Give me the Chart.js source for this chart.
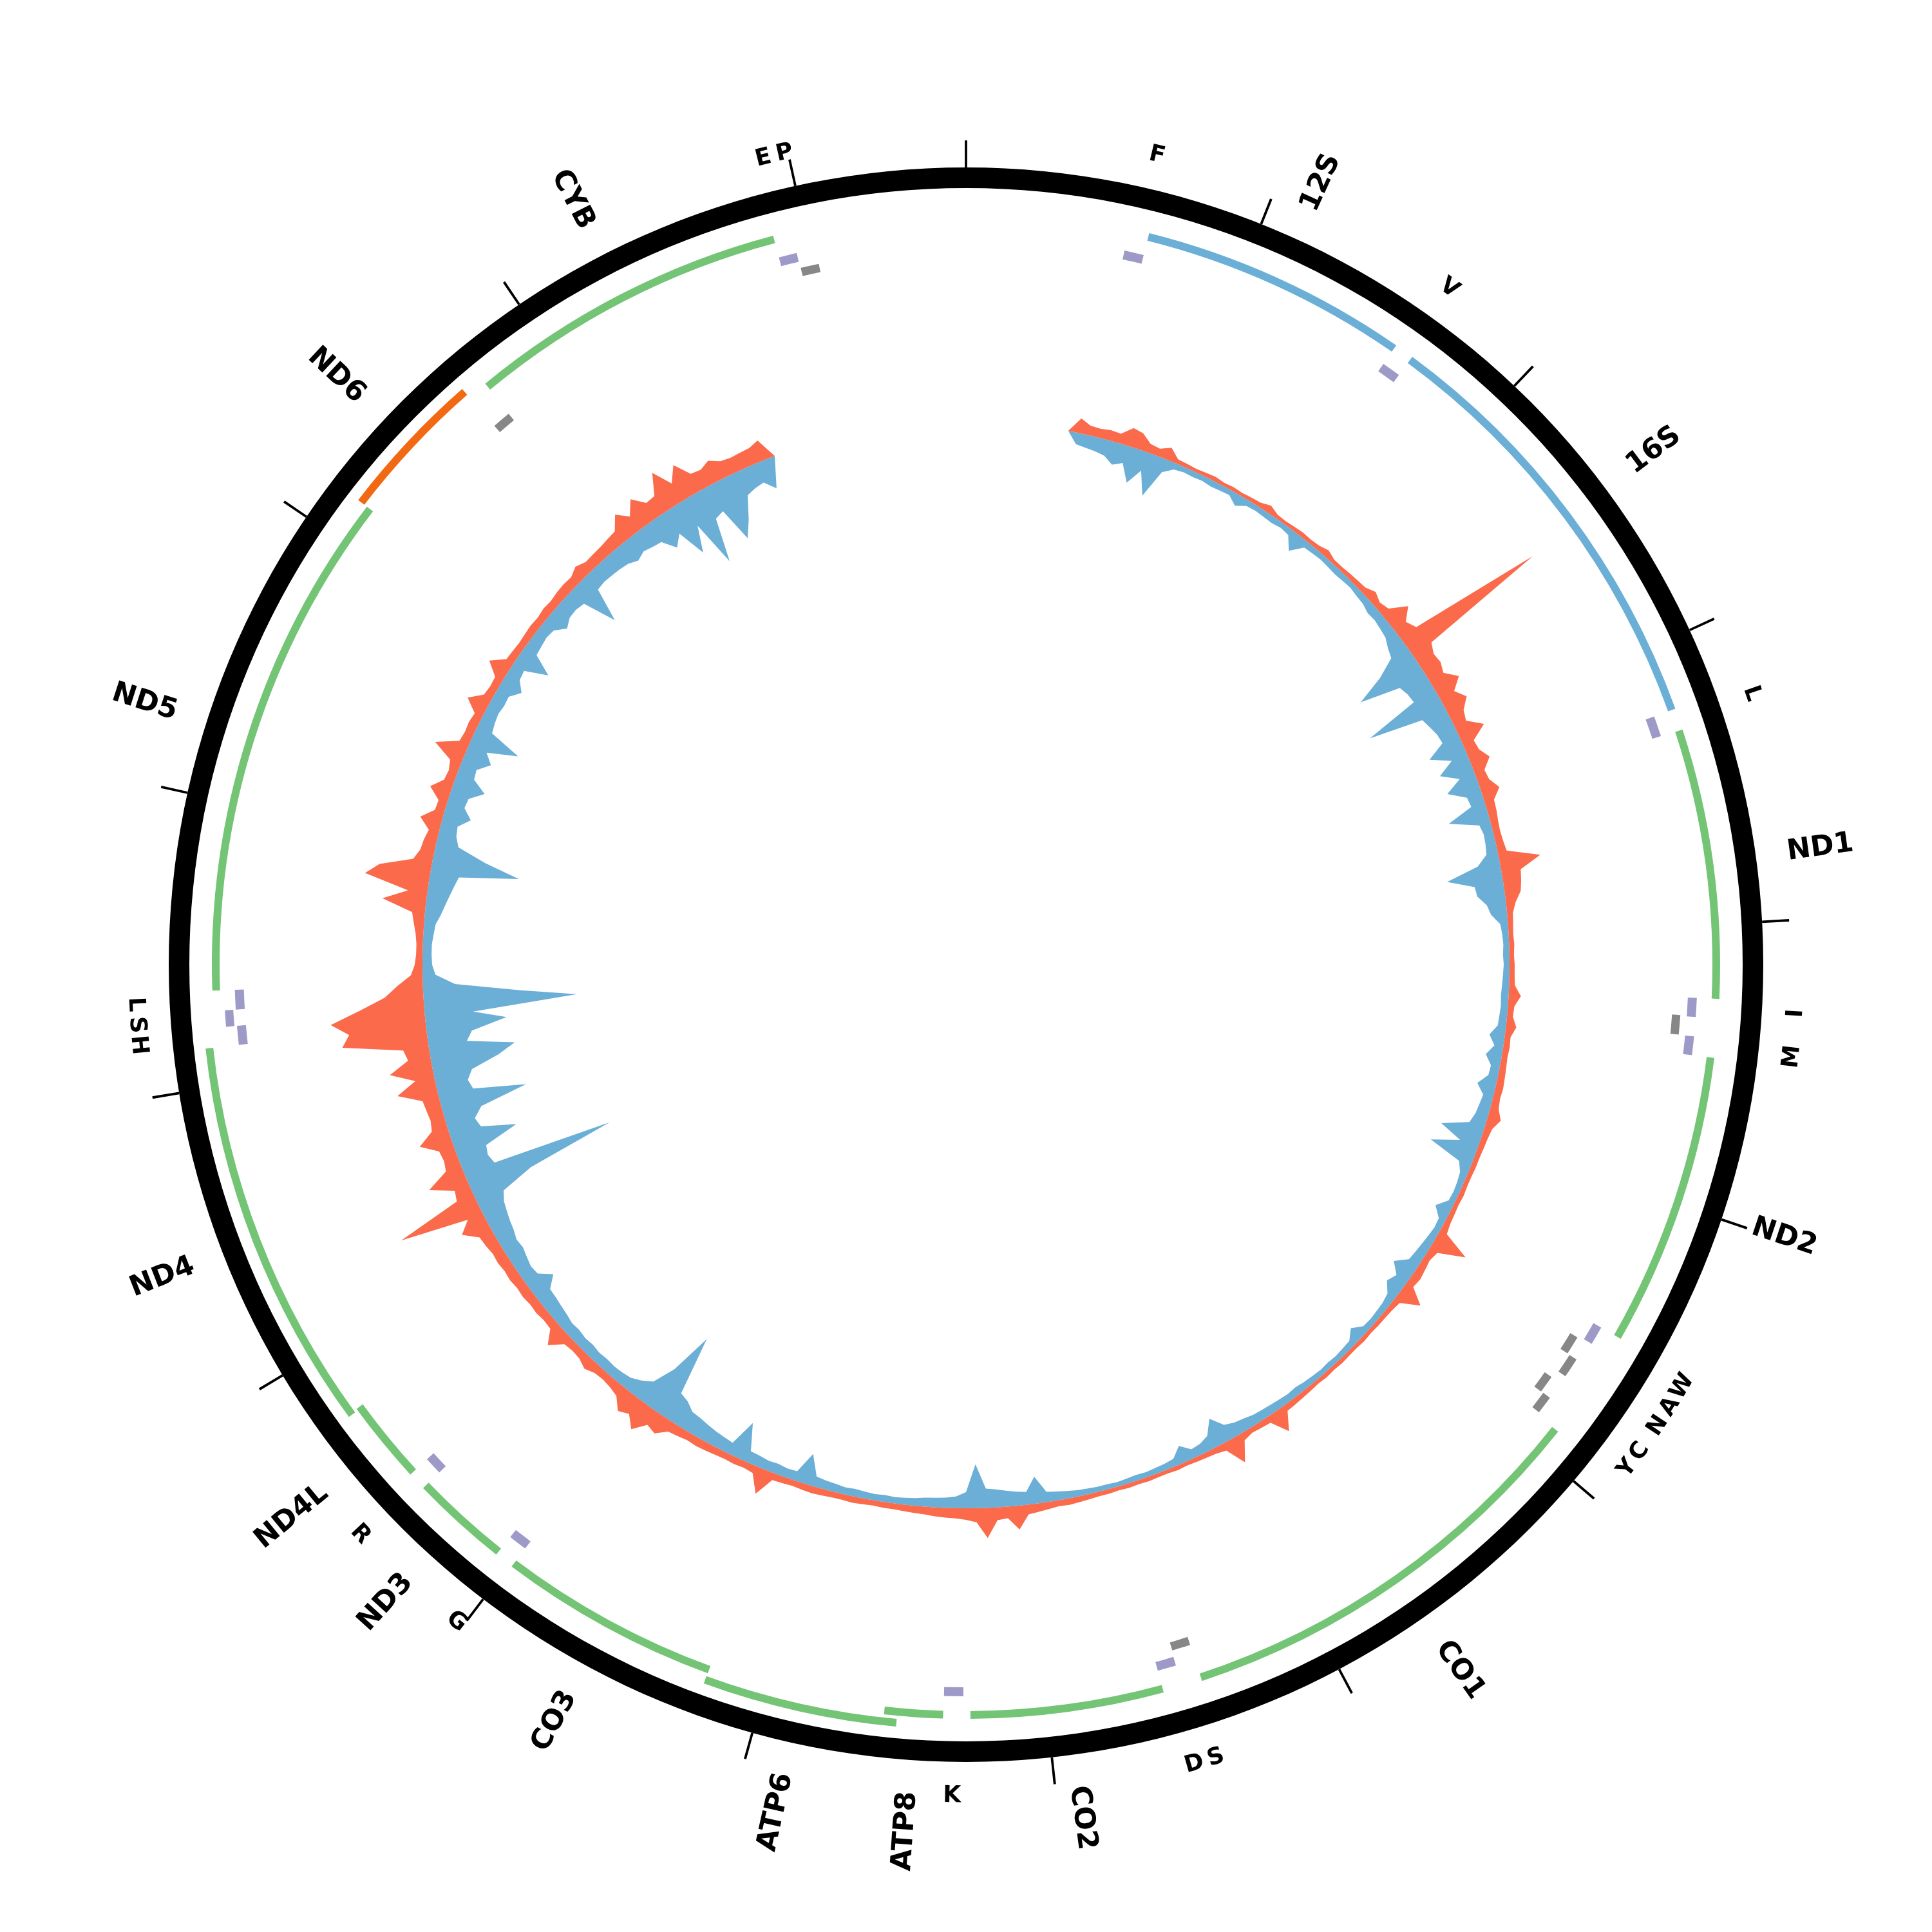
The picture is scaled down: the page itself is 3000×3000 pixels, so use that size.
<!DOCTYPE html>
<html>
<head>
<meta charset="utf-8">
<script src="https://cdn.jsdelivr.net/npm/chart.js@4.4.1/dist/chart.umd.min.js"></script>
<style>
html,body{margin:0;padding:0;background:#ffffff;}
#wrap{position:relative;width:3000px;height:3000px;background:#ffffff;}
#wrap canvas{position:absolute;left:0;top:0;}
</style>
</head>
<body>
<div id="wrap">
  <canvas id="coverage" width="3000" height="3000"></canvas>
  <canvas id="lstrand" width="3000" height="3000"></canvas>
  <canvas id="genome" width="3000" height="3000"></canvas>
</div>
<script>
// ---------------- DATA ----------------
const GENOME_LENGTH = 16569;
const tickPositions = [0,1000,2000,3000,4000,5000,6000,7000,8000,9000,10000,11000,12000,13000,14000,15000,16000];

// rRNA and protein-coding genes
const geneNames  = ['12S','16S','ND1','ND2','CO1','CO2','ATP8','ATP6','CO3','ND3','ND4L','ND4','ND5','ND6','CYB'];
const geneStarts = [648,1671,3307,4470,5904,7586,8366,8527,9207,10059,10470,10760,12337,14149,14747];
const geneEnds   = [1601,3229,4262,5511,7445,8269,8572,9207,9990,10404,10766,12137,14148,14673,15887];
const geneKinds  = ['rRNA','rRNA','CDS','CDS','CDS','CDS','CDS','CDS','CDS','CDS','CDS','CDS','CDS','CDS-L','CDS'];
const geneTracks = [0,0,0,0,0,0,0,1,0,0,0,1,0,1,0];

// tRNAs (labels as printed on the chart)
const trnaNames   = ['F','V','L1','I','Q','M','W','A','N','C','Y','S1','D','K','G','R','H','S2','L2','E','T','P'];
const trnaLabels  = ['F','V','L','I','','M','W','A','N','C','Y','S','D','K','G','R','H','S','L','','E','P'];
const trnaStarts  = [577,1602,3230,4263,4329,4402,5512,5587,5657,5761,5826,7446,7518,8295,9991,10405,12138,12207,12266,14674,15888,15956];
const trnaEnds    = [647,1670,3304,4331,4400,4469,5579,5655,5729,5826,5891,7514,7585,8364,10058,10469,12206,12265,12336,14742,15953,16023];
const trnaStrands = ['H','H','H','H','L','H','H','L','L','L','L','L','H','H','H','H','H','H','H','L','H','L'];
const trnaTracks  = [0,0,0,0,0,0,0,0,1,0,1,0,0,0,0,0,0,1,0,0,0,0];

// coverage, 332 bins around the genome (forward strand outward, reverse strand inward)
const coverageBins = 332;
const coverageForward = [
  0,0,0,0,0,0,0,0,0,0,
  0,23,15,14,16,15,29,26,14,12,
  20,7,6,5,6,7,5,6,5,6,
  7,12,6,5,6,7,6,7,11,6,
  6,7,8,9,16,10,14,40,22,30,
  241,35,28,30,25,43,25,38,24,20,
  43,18,20,31,16,18,29,15,14,12,
  11,12,14,64,30,28,25,15,9,8,
  7,8,7,8,8,9,19,10,9,16,
  9,10,9,10,11,12,11,13,21,12,
  10,9,8,8,7,7,8,7,8,9,
  12,55,14,10,12,14,12,38,10,8,
  7,7,6,7,6,6,7,6,7,6,
  7,8,9,10,37,10,9,8,12,42,
  12,9,8,7,6,7,6,6,7,6,
  7,6,7,7,8,9,10,9,11,13,
  15,37,18,20,47,22,18,16,15,14,
  12,11,10,9,9,8,9,10,9,9,
  10,11,10,9,10,11,40,12,10,11,
  10,11,12,13,12,14,16,30,25,45,
  28,35,18,14,12,13,19,13,12,14,
  34,14,13,15,14,16,15,17,16,18,
  17,20,22,44,25,132,28,24,60,25,
  22,24,50,25,22,24,26,62,30,67,
  35,40,133,120,147,100,60,40,18,12,
  10,10,12,16,20,68,30,100,80,30,
  22,20,16,34,15,14,33,16,14,18,
  50,16,14,15,13,34,14,12,13,34,
  13,12,11,12,13,12,14,13,15,16,
  15,22,16,17,18,20,22,42,26,47,
  28,30,62,32,55,30,28,35,26,24,
  25,26,32,0,0,0,0,0,0,0,
  0,0,0,0,0,0,0,0,0,0,
  0,0
];
const coverageReverse = [
  0,0,0,0,0,0,0,0,0,0,
  0,18,20,22,25,35,28,55,30,66,
  21,10,8,9,8,10,9,8,18,9,
  8,9,10,8,10,29,10,9,8,9,
  10,9,8,10,11,15,14,16,18,25,
  30,62,108,45,40,38,125,40,35,30,
  28,57,26,52,25,51,24,22,63,18,
  15,16,18,35,86,45,43,30,25,12,
  10,9,10,9,10,11,12,11,12,13,
  24,14,25,14,15,29,16,18,20,25,
  66,30,73,20,12,10,9,10,25,11,
  10,12,14,16,18,36,20,27,14,11,
  10,9,10,22,10,9,8,9,8,9,
  10,12,11,12,13,14,15,18,20,25,
  44,22,16,14,27,12,10,9,8,9,
  8,7,8,8,9,10,12,14,16,42,
  20,22,25,28,30,68,25,18,16,15,
  14,12,11,10,11,10,11,12,11,13,
  14,16,48,15,14,16,15,17,18,59,
  18,20,22,25,28,30,40,45,137,70,
  35,25,18,16,15,16,15,17,16,18,
  17,20,22,24,25,43,24,22,25,28,
  26,30,32,35,38,45,99,239,50,45,
  48,103,50,45,60,136,55,50,60,105,
  133,60,70,126,75,238,149,50,20,15,
  14,14,16,18,25,30,35,40,45,137,
  81,35,28,26,43,28,30,51,28,26,
  44,30,77,25,22,20,22,21,35,22,
  20,55,22,20,18,20,34,26,25,28,
  80,28,26,27,28,30,36,30,33,35,
  56,40,85,45,118,50,45,100,75,40,
  35,32,48,0,0,0,0,0,0,0,
  0,0,0,0,0,0,0,0,0,0,
  0,0
];

// ---------------- STYLE ----------------
const COLORS = {
  rRNA: '#6baed6', CDS: '#74c476', 'CDS-L': '#f16913',
  tH: '#9e9ac8', tL: '#878787',
  fwd: '#fb6a4a', rev: '#6baed6', ring: '#000000'
};
const NONE = 'rgba(0,0,0,0)';
const TICK_BP = 8;
const R_BIG = 1287, R_SMALL = 1291;
const FONT = '"DejaVu Sans", "Liberation Sans", sans-serif';
const BIG_FONT = 'bold 44px ' + FONT;
const SMALL_FONT = 'bold 36px ' + FONT;

// ---------------- HELPERS ----------------
function buildRing(indices, starts, ends, colorOf, labelOf) {
  const order = indices.slice().sort((a, b) => starts[a] - starts[b]);
  const data = [], bg = [], lab = [];
  let cursor = 1;
  for (const k of order) {
    if (starts[k] > cursor) { data.push(starts[k] - cursor); bg.push(NONE); lab.push(''); }
    data.push(ends[k] - starts[k] + 1); bg.push(colorOf(k)); lab.push(labelOf(k));
    cursor = ends[k] + 1;
  }
  if (cursor <= GENOME_LENGTH) { data.push(GENOME_LENGTH - cursor + 1); bg.push(NONE); lab.push(''); }
  return { data, bg, lab };
}

function tickRing() {
  const data = [], bg = [];
  let cur = 0;
  tickPositions.forEach(p => {
    const a = Math.max(0, p - TICK_BP / 2), b = p + TICK_BP / 2;
    if (a > cur) { data.push(a - cur); bg.push(NONE); }
    data.push(b - a); bg.push(COLORS.ring);
    cur = b;
  });
  data.push(GENOME_LENGTH - TICK_BP / 2 - cur); bg.push(NONE);
  data.push(TICK_BP / 2); bg.push(COLORS.ring);
  return { data, bg };
}

const idxAll = (arr) => arr.map((_, i) => i);

function ringDataset(ring, weight, style) {
  return {
    data: ring.data, backgroundColor: ring.bg, weight: weight,
    borderWidth: 0, hoverBorderWidth: 0, hoverOffset: 0, offset: 0,
    featureLabels: ring.lab || null, labelStyle: style || null
  };
}
function spacer(weight) {
  return { data: [GENOME_LENGTH], backgroundColor: [NONE], weight: weight,
           borderWidth: 0, hoverBorderWidth: 0, hoverOffset: 0, offset: 0 };
}

const labelPlugin = {
  id: 'featureLabels',
  afterDatasetsDraw(chart) {
    const ctx = chart.ctx;
    chart.data.datasets.forEach((ds, di) => {
      if (!ds.featureLabels) return;
      const meta = chart.getDatasetMeta(di);
      meta.data.forEach((arc, k) => {
        const text = ds.featureLabels[k];
        if (!text) return;
        const p = arc.getProps(['x', 'y', 'startAngle', 'endAngle'], true);
        const theta = (p.startAngle + p.endAngle) / 2 + Math.PI / 2;
        const deg = ((theta * 180 / Math.PI) % 360 + 360) % 360;
        ctx.save();
        ctx.translate(p.x, p.y);
        ctx.fillStyle = '#000';
        ctx.textBaseline = 'middle';
        if (ds.labelStyle === 'radial') {
          ctx.font = BIG_FONT;
          if (deg < 180) { ctx.rotate(theta - Math.PI / 2); ctx.textAlign = 'left'; ctx.fillText(text, R_BIG, 0); }
          else { ctx.rotate(theta + Math.PI / 2); ctx.textAlign = 'right'; ctx.fillText(text, -R_BIG, 0); }
        } else {
          ctx.font = SMALL_FONT;
          ctx.textAlign = 'center';
          ctx.rotate(theta);
          ctx.translate(0, -R_SMALL);
          if (deg > 90 && deg < 270) ctx.rotate(Math.PI);
          ctx.fillText(text, 0, 0);
        }
        ctx.restore();
      });
    });
  }
};

// ---------------- RINGS ----------------
const geneColor = k => COLORS[geneKinds[k]];
const geneLabel = k => geneNames[k];
const gene0 = buildRing(idxAll(geneNames).filter(k => geneTracks[k] === 0), geneStarts, geneEnds, geneColor, geneLabel);
const gene1 = buildRing(idxAll(geneNames).filter(k => geneTracks[k] === 1), geneStarts, geneEnds, geneColor, geneLabel);

const tColor = k => trnaStrands[k] === 'H' ? COLORS.tH : COLORS.tL;
const tLabel = k => trnaLabels[k];
const tH0 = buildRing(idxAll(trnaNames).filter(k => trnaStrands[k] === 'H' && trnaTracks[k] === 0), trnaStarts, trnaEnds, tColor, tLabel);
const tH1 = buildRing(idxAll(trnaNames).filter(k => trnaStrands[k] === 'H' && trnaTracks[k] === 1), trnaStarts, trnaEnds, tColor, tLabel);
const tL0 = buildRing(idxAll(trnaNames).filter(k => trnaStrands[k] === 'L' && trnaTracks[k] === 0), trnaStarts, trnaEnds, tColor, tLabel);
const tL1 = buildRing(idxAll(trnaNames).filter(k => trnaStrands[k] === 'L' && trnaTracks[k] === 1), trnaStarts, trnaEnds, tColor, tLabel);

const common = {
  responsive: false, animation: false, events: [],
  plugins: { legend: { display: false }, tooltip: { enabled: false } }
};

// main genome map: outer radius 1280, inner 1122
new Chart(document.getElementById('genome'), {
  type: 'doughnut',
  data: {
    datasets: [
      ringDataset(tickRing(), 42),
      ringDataset({ data: [GENOME_LENGTH], bg: [COLORS.ring] }, 32),
      spacer(18),
      ringDataset(gene1, 12, 'radial'),
      spacer(5),
      ringDataset(gene0, 12, 'radial'),
      spacer(6),
      ringDataset(tH1, 13, 'tangent'),
      spacer(4),
      ringDataset(tH0, 14, 'tangent')
    ]
  },
  options: Object.assign({}, common, {
    cutout: 1122,
    layout: { padding: { left: 220, right: 220, top: 218, bottom: 222 } }
  }),
  plugins: [labelPlugin]
});

// L-strand tRNAs: outer radius 1129, inner 1099
new Chart(document.getElementById('lstrand'), {
  type: 'doughnut',
  data: {
    datasets: [
      ringDataset(tL1, 13, 'tangent'),
      spacer(4),
      ringDataset(tL0, 13, 'tangent')
    ]
  },
  options: Object.assign({}, common, {
    cutout: 1099,
    layout: { padding: { left: 371, right: 371, top: 369, bottom: 373 } }
  }),
  plugins: [labelPlugin]
});

// coverage track
const binLabels = Array.from({ length: coverageBins }, (_, i) => Math.round(i * GENOME_LENGTH / coverageBins));
new Chart(document.getElementById('coverage'), {
  type: 'radar',
  data: {
    labels: binLabels,
    datasets: [
      { data: coverageForward, backgroundColor: COLORS.fwd, borderColor: NONE, borderWidth: 0, fill: 'origin', pointRadius: 0, tension: 0 },
      { data: coverageReverse.map(v => -v), backgroundColor: COLORS.rev, borderColor: NONE, borderWidth: 0, fill: 'origin', pointRadius: 0, tension: 0 }
    ]
  },
  options: Object.assign({}, common, {
    layout: { padding: { left: 400, right: 400, top: 398, bottom: 402 } },
    scales: {
      r: {
        min: -844, max: 256,
        ticks: { display: false },
        grid: { display: false, circular: false },
        angleLines: { display: false },
        pointLabels: { display: false }
      }
    }
  })
});
</script>
</body>
</html>
